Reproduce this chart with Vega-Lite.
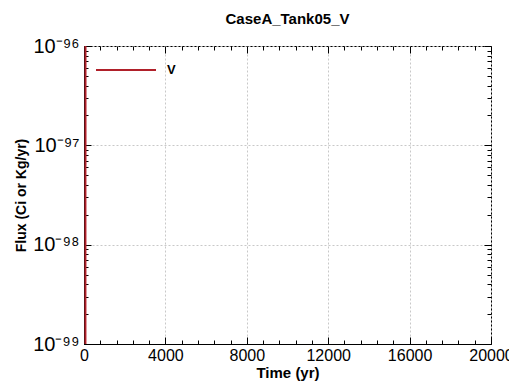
{
  "$schema": "https://vega.github.io/schema/vega-lite/v6.json",
  "width": 407,
  "height": 298,
  "autosize": "none",
  "padding": {"left": 84, "top": 46, "right": 18, "bottom": 41},
  "title": {"text": "CaseA_Tank05_V", "fontSize": 15, "fontWeight": "bold", "font": "Liberation Sans", "offset": 9, "anchor": "middle", "color": "black"},
  "config": {
    "view": {"stroke": "black", "strokeWidth": 1},
    "font": "Liberation Sans",
    "axis": {"domainColor": "black", "tickColor": "black", "labelColor": "black", "titleColor": "black", "labelFont": "Liberation Sans", "titleFont": "Liberation Sans"}
  },
  "data": {"values": [
    {"time": 70, "flux": 1e-100, "series": "V"},
    {"time": 75, "flux": 1e-94, "series": "V"}
  ]},
  "layer": [
    {
      "mark": {"type": "line", "clip": true, "strokeWidth": 2},
      "encoding": {
        "x": {"field": "time", "type": "quantitative", "scale": {"domain": [0, 20000], "nice": false, "zero": false},
          "axis": {"orient": "bottom", "values": [0, 4000, 8000, 12000, 16000, 20000], "format": "d", "ticks": false, "grid": true, "gridColor": "#c8c8c8", "gridDash": [2, 2], "labelFontSize": 16, "labelPadding": 3, "labelFlush": false, "labelOverlap": false, "title": "Time (yr)", "titleFontSize": 15, "titleFontWeight": "bold", "titlePadding": 2, "domain": true}},
        "y": {"field": "flux", "type": "quantitative", "scale": {"type": "log", "domain": [1e-99, 1e-96], "nice": false},
          "axis": {"orient": "left", "values": [1e-99, 1e-98, 1e-97, 1e-96], "ticks": false, "grid": true, "gridColor": "#c8c8c8", "gridDash": [2, 2], "labelFontSize": 20, "labelPadding": 5, "labelFlush": false, "labelOverlap": false,
            "labelExpr": "datum.value < 5e-99 ? '10⁻⁹⁹' : datum.value < 5e-98 ? '10⁻⁹⁸' : datum.value < 5e-97 ? '10⁻⁹⁷' : '10⁻⁹⁶'",
            "title": "Flux (Ci or Kg/yr)", "titleFontSize": 14, "titleFontWeight": "bold", "titlePadding": 4, "domain": true}},
        "color": {"field": "series", "type": "nominal", "scale": {"range": ["#b0202a"]},
          "legend": {"orient": "none", "legendX": 11, "legendY": -7, "title": null, "symbolType": "stroke", "symbolSize": 3600, "symbolStrokeWidth": 2, "labelFontSize": 13, "labelFontWeight": "bold", "labelOffset": 10, "padding": 0, "labelColor": "black"}}
      }
    },
    {
      "mark": {"type": "point", "opacity": 0, "clip": true},
      "encoding": {
        "x": {"field": "time", "type": "quantitative",
          "axis": {"orient": "bottom", "values": [0, 800, 1600, 2400, 3200, 4000, 4800, 5600, 6400, 7200, 8000, 8800, 9600, 10400, 11200, 12000, 12800, 13600, 14400, 15200, 16000, 16800, 17600, 18400, 19200, 20000], "labels": false, "grid": false, "domain": false, "title": null,
            "tickSize": {"condition": {"test": "datum.value % 4000 === 0", "value": -7}, "value": -4}}},
        "y": {"field": "flux", "type": "quantitative",
          "axis": {"orient": "left", "values": [1e-99, 2e-99, 3e-99, 4e-99, 5e-99, 6e-99, 7e-99, 8e-99, 9e-99, 1e-98, 2e-98, 3e-98, 4e-98, 5e-98, 6e-98, 7e-98, 8e-98, 9e-98, 1e-97, 2e-97, 3e-97, 4e-97, 5e-97, 6e-97, 7e-97, 8e-97, 9e-97, 1e-96], "labels": false, "grid": false, "domain": false, "title": null,
            "tickSize": {"condition": {"test": "abs(log(datum.value)/LN10 - round(log(datum.value)/LN10)) < 0.001", "value": -7}, "value": -4}}}
      }
    },
    {
      "mark": {"type": "point", "opacity": 0, "clip": true},
      "encoding": {
        "x": {"field": "time", "type": "quantitative",
          "axis": {"orient": "top", "values": [0, 800, 1600, 2400, 3200, 4000, 4800, 5600, 6400, 7200, 8000, 8800, 9600, 10400, 11200, 12000, 12800, 13600, 14400, 15200, 16000, 16800, 17600, 18400, 19200, 20000], "labels": false, "grid": false, "domain": false, "title": null,
            "tickSize": {"condition": {"test": "datum.value % 4000 === 0", "value": -7}, "value": -4}}},
        "y": {"field": "flux", "type": "quantitative",
          "axis": {"orient": "right", "values": [1e-99, 2e-99, 3e-99, 4e-99, 5e-99, 6e-99, 7e-99, 8e-99, 9e-99, 1e-98, 2e-98, 3e-98, 4e-98, 5e-98, 6e-98, 7e-98, 8e-98, 9e-98, 1e-97, 2e-97, 3e-97, 4e-97, 5e-97, 6e-97, 7e-97, 8e-97, 9e-97, 1e-96], "labels": false, "grid": false, "domain": false, "title": null,
            "tickSize": {"condition": {"test": "abs(log(datum.value)/LN10 - round(log(datum.value)/LN10)) < 0.001", "value": -7}, "value": -4}}}
      }
    }
  ],
  "resolve": {"axis": {"x": "independent", "y": "independent"}}
}
